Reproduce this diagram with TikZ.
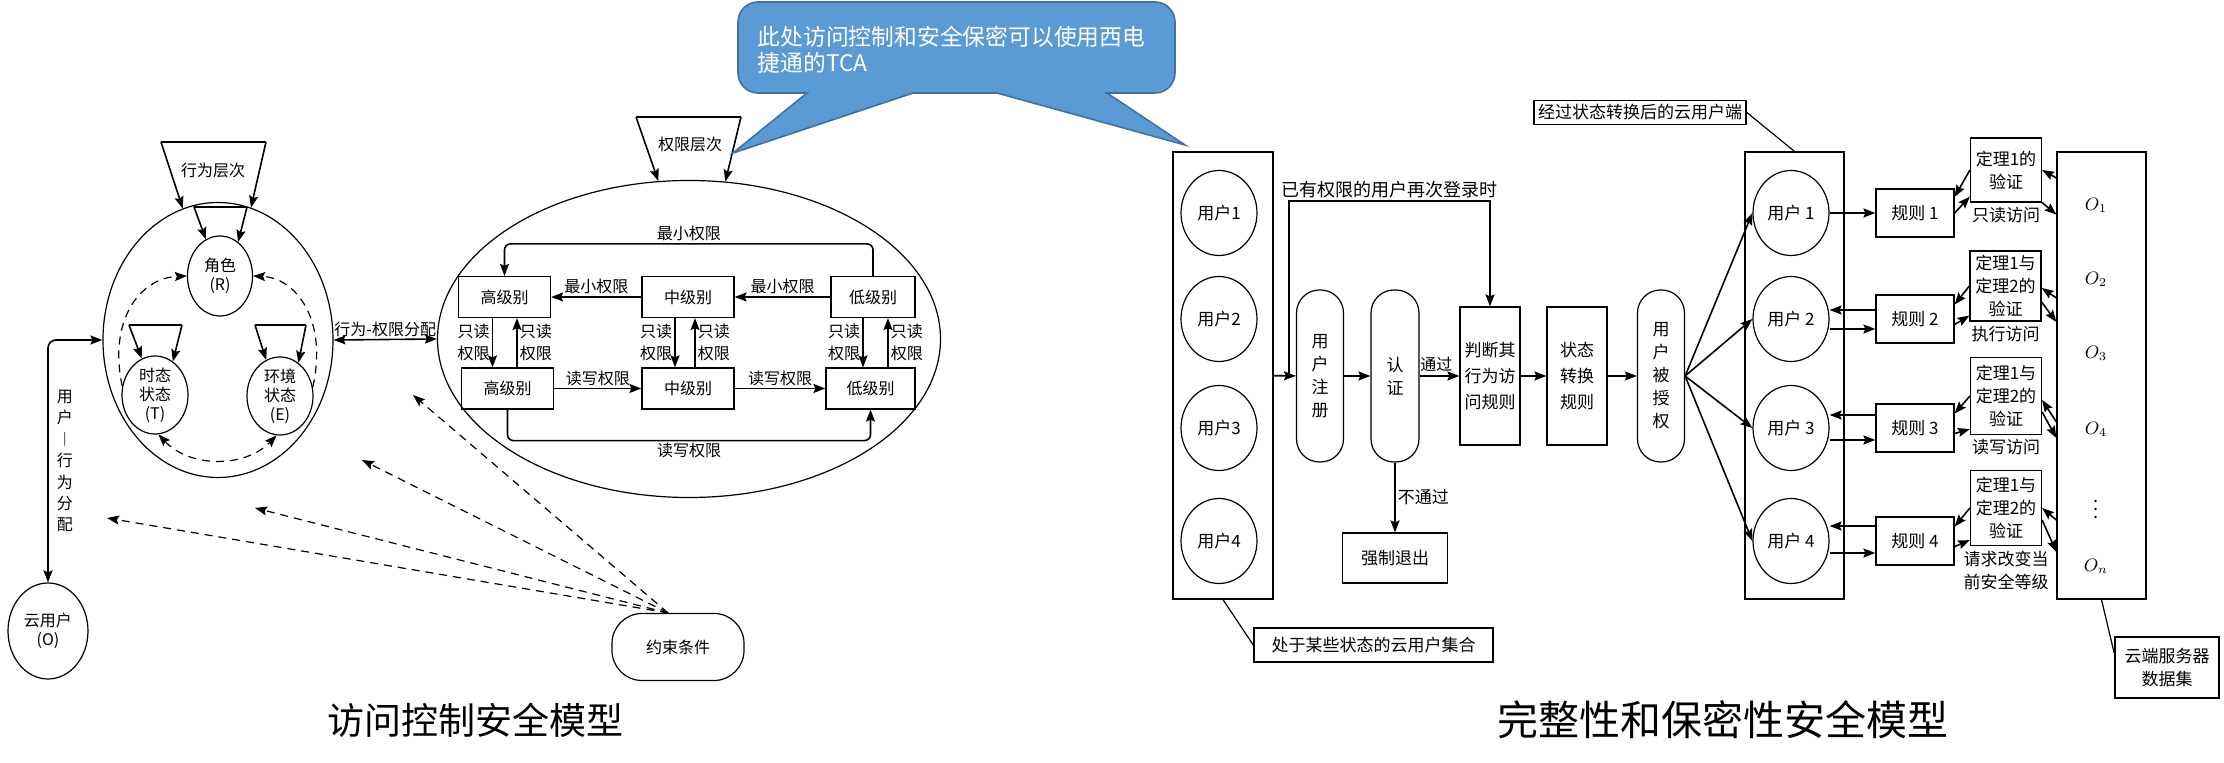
\documentclass[tikz,border=0pt]{standalone}
\usepackage{fontspec}
\setmainfont{Noto Sans CJK SC}
\usepackage{tikz}
\usetikzlibrary{shapes.geometric, arrows.meta, positioning, calc}
\definecolor{callfill}{HTML}{5B9BD5}
\definecolor{callline}{HTML}{41719C}
\tikzstyle{state} = [ellipse, draw=black, inner sep=0pt, align=center, font=\fontsize{8}{9.5}\selectfont]
\tikzstyle{level} = [rectangle, draw=black, minimum width=46pt, minimum height=20.5pt, inner sep=1pt, font=\fontsize{8}{10}\selectfont]
\tikzstyle{lbl} = [inner sep=1pt, align=center, font=\fontsize{8}{11}\selectfont]
\tikzstyle{rlbl} = [inner sep=1pt, align=center, font=\fontsize{8.5}{11.5}\selectfont]
\tikzstyle{pill} = [rectangle, rounded corners=11.5pt, draw=black, minimum width=23.5pt, minimum height=86pt, inner sep=0pt, align=center, font=\fontsize{8.5}{11.5}\selectfont]
\tikzstyle{process} = [rectangle, draw=black, minimum width=30pt, minimum height=69pt, inner sep=1pt, align=center, font=\fontsize{8.5}{13}\selectfont]
\tikzstyle{user} = [ellipse, draw=black, minimum width=38pt, minimum height=42.5pt, inner sep=0pt, font=\fontsize{8.5}{10}\selectfont]
\tikzstyle{rulebox} = [rectangle, draw=black, minimum width=39pt, minimum height=24pt, inner sep=1pt, font=\fontsize{8.5}{10}\selectfont]
\tikzstyle{proof} = [rectangle, draw=black, minimum width=35.5pt, minimum height=32pt, inner sep=1pt, align=center, font=\fontsize{8.5}{11.5}\selectfont]
\tikzstyle{note} = [rectangle, draw=black, thick, inner sep=2pt, align=center, font=\fontsize{8.5}{11.5}\selectfont]
\tikzstyle{arrow} = [thick,->]
\tikzstyle{dasharrow} = [->, dash pattern=on 4pt off 3pt]

\begin{document}
\begin{tikzpicture}[x=0.5pt, y=-0.5pt, semithick, >={Stealth[length=6pt,width=4.5pt,inset=1pt]}]
\useasboundingbox (0,0) rectangle (2224,763);

% Behaviour model
\node (core) [state, minimum width=115pt, minimum height=137.5pt] at (218,340) {};
\node (role) [state, minimum width=32.5pt, minimum height=40pt] at (220,276) {角色\\(R)};
\node (tstate) [state, minimum width=33pt, minimum height=39pt] at (155,395) {时态\\状态\\(T)};
\node (estate) [state, minimum width=33pt, minimum height=39pt] at (280,396) {环境\\状态\\(E)};
\node (cuser) [state, minimum width=40pt, minimum height=48pt] at (48,631) {云用户\\(O)};

% Behaviour hierarchy
\node (bhv) [lbl] at (213,170) {行为层次};
\coordinate (bt1) at (161,142);
\coordinate (bt2) at (266,142);
\draw (bt1) -- (bt2);
\draw [arrow] (bt1) -- (core.105);
\draw [arrow] (bt2) -- (core.76);

% Self loops
\coordinate (rl1) at (194,207);
\coordinate (rl2) at (247,207);
\draw (rl1) -- (rl2);
\draw [arrow] (rl1) -- (role.111);
\draw [arrow] (rl2) -- (role.62);
\coordinate (tl1) at (129,325);
\coordinate (tl2) at (182,325);
\draw (tl1) -- (tl2);
\draw [arrow] (tl1) -- (tstate.110);
\draw [arrow] (tl2) -- (tstate.62);
\coordinate (el1) at (255,325);
\coordinate (el2) at (306,325);
\draw (el1) -- (el2);
\draw [arrow] (el1) -- (estate.111);
\draw [arrow] (el2) -- (estate.61);

% Dashed relations
\draw [dasharrow] (tstate.165) .. controls (108,320) and (140,278) .. (role.west);
\draw [dasharrow] (estate.15) .. controls (328,320) and (296,278) .. (role.east);
\draw [dasharrow, <->] (tstate.275) .. controls (190,468) and (245,468) .. (estate.265);

% User assignment
\draw [thick, <->, rounded corners=4pt] (cuser.north) |- node[lbl, pos=0.25, right=3pt, font=\fontsize{8}{10.7}\selectfont] {用\\户\\︱\\行\\为\\分\\配} (core.west);

% Permission model
\node (privs) [state, minimum width=251.5pt, minimum height=158.5pt] at (689,339) {};
\node (perm) [lbl] at (690,145) {权限层次};
\coordinate (pt1) at (636,117);
\coordinate (pt2) at (741,117);
\draw (pt1) -- (pt2);
\draw [arrow] (pt1) -- (privs.101);
\draw [arrow] (pt2) -- (privs.77);

\draw [thick, <->] (core.east) -- node[lbl, above] {行为-权限分配} (privs.west);

% Levels
\node (hi1) [level] at (504.5,297) {高级别};
\node (mi1) [level] at (688,297) {中级别};
\node (lo1) [level, minimum width=42pt] at (873,297) {低级别};
\node (hi2) [level] at (507.5,388.5) {高级别};
\node (mi2) [level] at (688,388.5) {中级别};
\node (lo2) [level, minimum width=44.5pt] at (870.5,388.5) {低级别};

\draw [arrow] (mi1) -- node[lbl, above] {最小权限} (hi1);
\draw [arrow] (lo1) -- node[lbl, above] {最小权限} (mi1);
\draw [arrow] (hi2) -- node[lbl, above] {读写权限} (mi2);
\draw [arrow] (mi2) -- node[lbl, above] {读写权限} (lo2);
\draw [arrow, rounded corners=3pt] (lo1.north) -- ++(0,-32) -| node[lbl, pos=0.25, above] {最小权限} (hi1.north);
\draw [arrow, rounded corners=3pt] (hi2.south) -- ++(0,31) -| node[lbl, pos=0.25, below] {读写权限} (lo2.south);

\draw [arrow] ([xshift=-6pt]hi1.south) -- node[lbl, left] {只读\\权限} ([xshift=-6pt]hi1.south |- hi2.north);
\draw [arrow] ([xshift=6.25pt]hi1.south |- hi2.north) -- node[lbl, right] {只读\\权限} ([xshift=6.25pt]hi1.south);
\draw [arrow] ([xshift=-6.5pt]mi1.south) -- node[lbl, left] {只读\\权限} ([xshift=-6.5pt]mi1.south |- mi2.north);
\draw [arrow] ([xshift=3.5pt]mi1.south |- mi2.north) -- node[lbl, right] {只读\\权限} ([xshift=3.5pt]mi1.south);
\draw [arrow] ([xshift=-5pt]lo1.south) -- node[lbl, left] {只读\\权限} ([xshift=-5pt]lo1.south |- lo2.north);
\draw [arrow] ([xshift=7.5pt]lo1.south |- lo2.north) -- node[lbl, right] {只读\\权限} ([xshift=7.5pt]lo1.south);

% Constraints
\node (cons) [rectangle, rounded corners=15pt, draw=black, minimum width=66pt, minimum height=33.5pt, font=\fontsize{8}{10}\selectfont] at (678,647) {约束条件};
\coordinate (c1) at (413,395);
\coordinate (c2) at (362,460);
\coordinate (c3) at (255,508);
\coordinate (c4) at (107,518);
\draw [dasharrow] ([xshift=-5pt]cons.north) -- (c1);
\draw [dasharrow] ([xshift=-5pt]cons.north) -- (c2);
\draw [dasharrow] ([xshift=-5pt]cons.north) -- (c3);
\draw [dasharrow] ([xshift=-5pt]cons.north) -- (c4);

% Callout
\path [fill=callfill, draw=callline, line width=0.8pt] (738,50) [rounded corners=10pt] -- (738,2) -- (1175,2) -- (1175,93) -- (1125,93) [sharp corners] -- (1107,93) -- (1185,145) -- (997,93) -- (913,93) -- (733,153) -- (807,93) -- (785,93) [rounded corners=10pt] -- (738,93) -- cycle;
\node (tip) [anchor=west, align=left, inner sep=0pt, text=white, font=\fontsize{11.4}{13}\selectfont] at (757,50) {此处访问控制和安全保密可以使用西电\\捷通的TCA};

% Users before transition
\node (uset) [rectangle, draw=black, minimum width=50pt, minimum height=223.5pt] at (1223,375.5) {};
\node (u1) [user] at (1219,213) {用户1};
\node (u2) [user] at (1219,319) {用户2};
\node (u3) [user] at (1219,428) {用户3};
\node (u4) [user] at (1219,541) {用户4};

% Flow
\node (reg) [pill] at (1320,376) {用\\户\\注\\册};
\node (auth) [pill, minimum width=24pt] at (1395,376) {认\\证};
\node (judge) [process] at (1490,376) {判断其\\行为访\\问规则};
\node (trans) [process] at (1577,376) {状态\\转换\\规则};
\node (grant) [pill] at (1661,376) {用\\户\\被\\授\\权};
\node (quit) [rectangle, draw=black, minimum width=52.5pt, minimum height=25pt, font=\fontsize{8.5}{10}\selectfont] at (1395,558) {强制退出};

\coordinate (fb) at ($(uset.east)!0.7!(reg.west)$);
\draw [arrow] (uset) -- (reg);
\draw [arrow] (fb) -- ++(0,-175) -| node[rlbl, pos=0.25, above, font=\fontsize{9}{11}\selectfont] {已有权限的用户再次登录时} (judge.north);
\draw [arrow] (reg) -- (auth);
\draw [arrow] (auth) -- node[lbl, pos=0.42, above=1pt] {通过} (judge);
\draw [arrow] (judge) -- (trans);
\draw [arrow] (trans) -- (grant);
\draw [arrow] (auth) -- node[rlbl, right] {不通过} (quit);

% Users after transition
\node (uset2) [rectangle, draw=black, minimum width=49.5pt, minimum height=223.5pt] at (1794.5,375.5) {};
\node (v1) [user] at (1791,213) {用户 1};
\node (v2) [user] at (1791,319) {用户 2};
\node (v3) [user] at (1791,428) {用户 3};
\node (v4) [user] at (1791,541) {用户 4};
\draw [arrow] (grant.east) -- (v1.west);
\draw [arrow] (grant.east) -- (v2.west);
\draw [arrow] (grant.east) -- (v3.west);
\draw [arrow] (grant.east) -- (v4.west);

% Rules
\node (r1) [rulebox] at (1915,213) {规则 1};
\node (r2) [rulebox] at (1915,319) {规则 2};
\node (r3) [rulebox] at (1915,428) {规则 3};
\node (r4) [rulebox] at (1915,541) {规则 4};
\draw [arrow] (v1) -- (r1);
\draw [arrow] ([yshift=4.5pt]r2.west) -- ([yshift=4.5pt]v2.east);
\draw [arrow] ([yshift=-5pt]v2.east) -- ([yshift=-5pt]r2.west);
\draw [arrow] ([yshift=6.5pt]r3.west) -- ([yshift=6.5pt]v3.east);
\draw [arrow] ([yshift=-6pt]v3.east) -- ([yshift=-6pt]r3.west);
\draw [arrow] ([yshift=7.5pt]r4.west) -- ([yshift=7.5pt]v4.east);
\draw [arrow] ([yshift=-6pt]v4.east) -- ([yshift=-6pt]r4.west);

% Theorem checks
\node (t1) [proof] at (2006,170) {定理1的\\验证};
\node (t2) [proof, minimum height=35pt] at (2005.5,286) {定理1与\\定理2的\\验证};
\node (t3) [proof, minimum height=38.5pt] at (2006,396) {定理1与\\定理2的\\验证};
\node (t4) [proof, minimum height=37.5pt] at (2006,508) {定理1与\\定理2的\\验证};
\node (a1) [rlbl, below=1pt of t1] {只读访问};
\node (a2) [rlbl, below=1pt of t2] {执行访问};
\node (a3) [rlbl, below=1pt of t3] {读写访问};
\node (a4) [rlbl, below=1pt of t4] {请求改变当\\前安全等级};

\draw [arrow] (t1.west) -- (r1.22);
\draw [arrow] (r1.east) -- ([yshift=3pt]t1.south west);
\draw [arrow] (t2.west) -- (r2.20);
\draw [arrow] (r2.-8) -- ([yshift=3pt]t2.south west);
\draw [arrow] (t3.west) -- (r3.20);
\draw [arrow] (r3.-8) -- ([yshift=3pt]t3.south west);
\draw [arrow] (t4.west) -- (r4.20);
\draw [arrow] (r4.-8) -- ([yshift=3pt]t4.south west);

% Server data set
\node (obox) [rectangle, draw=black, minimum width=44.5pt, minimum height=223.5pt] at (2101.5,375.5) {};
\node (o1) [font=\fontsize{9}{11}\selectfont] at (2096,205) {$O_1$};
\node (o2) [font=\fontsize{9}{11}\selectfont] at (2096,279) {$O_2$};
\node (o3) [font=\fontsize{9}{11}\selectfont] at (2096,353) {$O_3$};
\node (o4) [font=\fontsize{9}{11}\selectfont] at (2096,429) {$O_4$};
\node (o5) [font=\fontsize{9}{11}\selectfont] at (2096,503) {$\vdots$};
\node (o6) [font=\fontsize{9}{11}\selectfont] at (2096,566) {$O_n$};

\draw [arrow] ([yshift=-4pt]t1.east -| obox.west) -- (t1.east);
\draw [arrow] (t1.south east) -- ([yshift=-6pt]t1.south east -| obox.west);
\draw [arrow] ([yshift=-6pt]t2.east -| obox.west) -- ([yshift=-1pt]t2.east);
\draw [arrow] ([yshift=-8pt]t2.east) -- ([yshift=-18pt]t2.east -| obox.west);
\draw [arrow] ([yshift=-13pt]t3.east -| obox.west) -- ([yshift=-2pt]t3.east);
\draw [arrow] ([yshift=-8pt]t3.east) -- ([yshift=-21pt]t3.east -| obox.west);
\draw [arrow] ([yshift=-6pt]t4.east -| obox.west) -- (t4.east);
\draw [arrow] ([yshift=-6pt]t4.east) -- ([yshift=-22pt]t4.east -| obox.west);

% Notes
\node (note1) [note] at (1640,112.5) {经过状态转换后的云用户端};
\draw (note1.east) -- (uset2.north);
\node (note2) [note, minimum width=119.5pt, minimum height=17pt] at (1373.5,645) {处于某些状态的云用户集合};
\draw (uset.south) -- (note2.west);
\node (note3) [note, minimum width=52pt, minimum height=30.5pt] at (2167,667.5) {云端服务器\\数据集};
\draw (obox.south) -- (note3.165);

% Titles
\node (title1) [font=\fontsize{18.5}{20}\selectfont] at (475,720) {访问控制安全模型};
\node (title2) [font=\fontsize{20.5}{22}\selectfont] at (1723,720) {完整性和保密性安全模型};

\end{tikzpicture}
\end{document}
